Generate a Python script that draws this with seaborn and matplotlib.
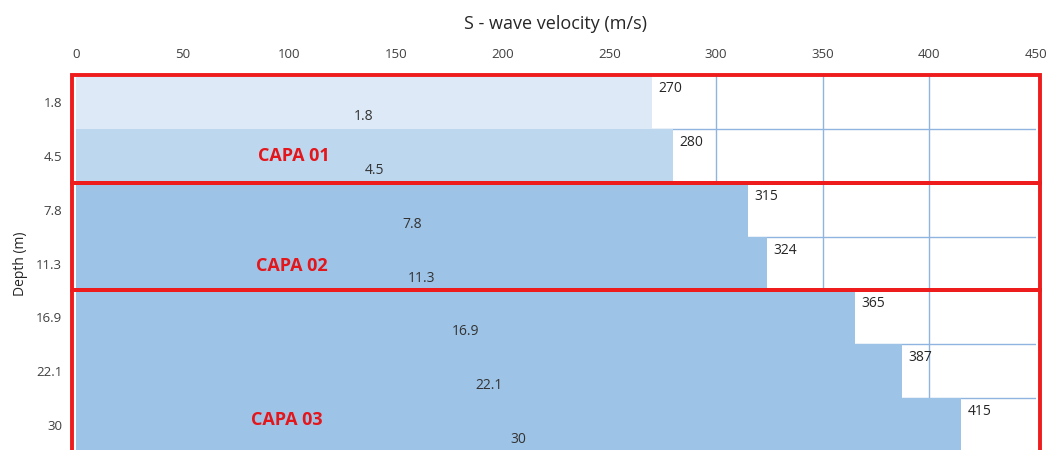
import matplotlib
matplotlib.use("Agg")
import matplotlib.pyplot as plt
from matplotlib.patches import Rectangle
import pandas as pd
import seaborn as sns

# values
depths = ["1.8", "4.5", "7.8", "11.3", "16.9", "22.1", "30"]
velocity = [270, 280, 315, 324, 365, 387, 415]
bar_colors = ["#dde9f6", "#bdd7ee", "#9dc3e6", "#9dc3e6", "#9dc3e6", "#9dc3e6", "#9dc3e6"]
layers = ["CAPA 01", "CAPA 02", "CAPA 03"]
layer_rows = [(0, 1), (2, 3), (4, 6)]
x_ticks = [0, 50, 100, 150, 200, 250, 300, 350, 400, 450]

sns.set_theme(style="white")
plt.rcParams["font.family"] = ["Open Sans", "DejaVu Sans"]

df = pd.DataFrame({"Depth": depths, "Vs": velocity})

fig = plt.figure(figsize=(10.6, 4.5), dpi=100)
ax = fig.add_axes([76 / 1060, -2 / 450, (1036 - 76) / 1060, 1 - 73 / 450])

sns.barplot(data=df, x="Vs", y="Depth", hue="Depth", palette=bar_colors, saturation=1,
            orient="h", width=1.0, legend=False, ax=ax, zorder=2, linewidth=0)

ax.set_xlim(0, 450)
ax.set_ylim(len(depths) - 0.5, -0.5)

# grid lines (drawn under the bars)
for xt in x_ticks[1:-1]:
    ax.axvline(xt, color="#8fb4df", lw=1.0, zorder=1)
for k in range(1, len(depths)):
    ax.axhline(k - 0.5, color="#8fb4df", lw=1.0, zorder=1)

# labels on the bars
for i, (d, v) in enumerate(zip(depths, velocity)):
    ax.text(v + 3, i - 0.25, str(v), ha="left", va="center", fontsize=10, color="#262626", zorder=4)
    ax.text(v / 2, i + 0.27, d, ha="center", va="center", fontsize=10, color="#333333", zorder=4)

# layer boxes
for name, (r0, r1), (lx, ly) in zip(layers, layer_rows, [(102, 1.0), (101, 3.05), (99, 5.9)]):
    ax.add_patch(Rectangle((-1.8, r0 - 0.5), 453.6, r1 - r0 + 1, fill=False,
                           edgecolor="#ee1c1c", lw=2.8, zorder=5, clip_on=False))
    ax.text(lx, ly, name, ha="center", va="center", fontsize=13, fontweight="bold",
            color="#e3161c", zorder=6)

ax.xaxis.tick_top()
ax.xaxis.set_label_position("top")
ax.set_xticks(x_ticks)
ax.set_xlabel("S - wave velocity (m/s)", fontsize=13, labelpad=14, color="#262626")
ax.set_ylabel("Depth (m)", fontsize=10, labelpad=6, color="#262626")
ax.tick_params(axis="both", length=0, labelsize=9.5, colors="#404040")
ax.tick_params(axis="x", pad=10)
ax.tick_params(axis="y", pad=10)
sns.despine(ax=ax, left=True, bottom=True, right=True, top=True)

fig.savefig("out.png", dpi=100)
